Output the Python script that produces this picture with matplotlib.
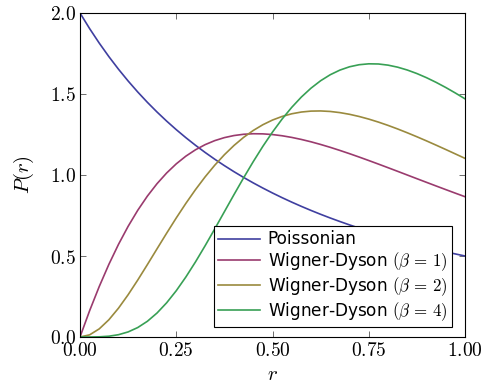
import matplotlib
matplotlib.use("Agg")
import matplotlib.pyplot as plt

plt.rcParams['mathtext.fontset'] = 'cm'
plt.rcParams['font.family'] = ['DejaVu Sans']

r = [0.000, 0.025, 0.050, 0.075, 0.100, 0.125, 0.150, 0.175, 0.200, 0.225,
     0.250, 0.275, 0.300, 0.325, 0.350, 0.375, 0.400, 0.425, 0.450, 0.475,
     0.500, 0.525, 0.550, 0.575, 0.600, 0.625, 0.650, 0.675, 0.700, 0.725,
     0.750, 0.775, 0.800, 0.825, 0.850, 0.875, 0.900, 0.925, 0.950, 0.975,
     1.000]

poisson = [2.0000, 1.9036, 1.8141, 1.7307, 1.6529, 1.5803, 1.5123, 1.4486,
           1.3889, 1.3328, 1.2800, 1.2303, 1.1834, 1.1392, 1.0974, 1.0579,
           1.0204, 0.9849, 0.9512, 0.9193, 0.8889, 0.8600, 0.8325, 0.8063,
           0.7813, 0.7574, 0.7346, 0.7129, 0.6920, 0.6721, 0.6531, 0.6348,
           0.6173, 0.6005, 0.5844, 0.5689, 0.5540, 0.5397, 0.5260, 0.5127,
           0.5000]

wd_beta1 = [0.0000, 0.1624, 0.3118, 0.4483, 0.5720, 0.6831, 0.7822, 0.8697,
            0.9462, 1.0123, 1.0688, 1.1164, 1.1557, 1.1874, 1.2122, 1.2307,
            1.2436, 1.2514, 1.2547, 1.2539, 1.2496, 1.2422, 1.2320, 1.2194,
            1.2049, 1.1885, 1.1708, 1.1517, 1.1317, 1.1109, 1.0894, 1.0675,
            1.0452, 1.0227, 1.0000, 0.9773, 0.9547, 0.9322, 0.9099, 0.8878,
            0.8660]

wd_beta2 = [0.0000, 0.0133, 0.0502, 0.1064, 0.1780, 0.2609, 0.3516, 0.4469,
            0.5440, 0.6406, 0.7348, 0.8249, 0.9098, 0.9885, 1.0604, 1.1251,
            1.1824, 1.2323, 1.2749, 1.3104, 1.3392, 1.3615, 1.3779, 1.3887,
            1.3944, 1.3954, 1.3922, 1.3851, 1.3747, 1.3612, 1.3451, 1.3267,
            1.3063, 1.2842, 1.2607, 1.2361, 1.2106, 1.1842, 1.1574, 1.1301,
            1.1027]

wd_beta4 = [0.0000, 0.0001, 0.0011, 0.0049, 0.0142, 0.0313, 0.0584, 0.0970,
            0.1479, 0.2110, 0.2856, 0.3705, 0.4637, 0.5634, 0.6673, 0.7732,
            0.8790, 0.9827, 1.0825, 1.1771, 1.2650, 1.3455, 1.4177, 1.4813,
            1.5360, 1.5819, 1.6190, 1.6475, 1.6680, 1.6807, 1.6863, 1.6853,
            1.6782, 1.6656, 1.6481, 1.6263, 1.6007, 1.5718, 1.5402, 1.5061,
            1.4702]

labels = ['Poissonian',
          r'Wigner-Dyson $(\beta\,=\,1)$',
          r'Wigner-Dyson $(\beta\,=\,2)$',
          r'Wigner-Dyson $(\beta\,=\,4)$']
colors = ['#3f3fa0', '#9a3b6e', '#9a8a3e', '#38a055']

xticks = [0.0, 0.25, 0.5, 0.75, 1.0]
xticklabels = ['$0.00$', '$0.25$', '$0.50$', '$0.75$', '$1.00$']
yticks = [0.0, 0.5, 1.0, 1.5, 2.0]
yticklabels = ['$0.0$', '$0.5$', '$1.0$', '$1.5$', '$2.0$']

fig = plt.figure(figsize=(4.82, 3.87), dpi=100)
ax = fig.add_axes([80/482, 1-337/387, 385/482, 324/387])

for y, lab, c in zip([poisson, wd_beta1, wd_beta2, wd_beta4], labels, colors):
    ax.plot(r, y, color=c, lw=1.2, label=lab, solid_joinstyle='round')

ax.set_xlim(0, 1)
ax.set_ylim(0, 2)
ax.set_xticks(xticks)
ax.set_xticklabels(xticklabels, fontsize=14)
ax.set_yticks(yticks)
ax.set_yticklabels(yticklabels, fontsize=14)
ax.tick_params(direction='in', length=4, width=0.6, top=True, right=True,
               color='#555555', pad=3)
for s in ax.spines.values():
    s.set_linewidth(0.8)
ax.set_xlabel('$r$', fontsize=15, labelpad=3)
ax.set_ylabel('$P(r)$', fontsize=15, labelpad=10)

leg = ax.legend(loc='lower right', bbox_to_anchor=(0.966, 0.031),
                borderaxespad=0, fancybox=False, edgecolor='black',
                framealpha=1, fontsize=12.2, handlelength=2.5,
                handletextpad=0.45, labelspacing=0.12, borderpad=0.25)
leg.get_frame().set_linewidth(0.8)

fig.savefig('out.png', dpi=100)
